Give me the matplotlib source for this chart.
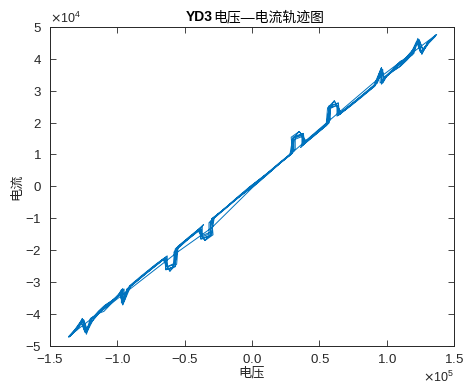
import matplotlib

matplotlib.use("Agg")

import matplotlib.pyplot as plt
import numpy as np

plt.rcParams["font.family"] = ["Liberation Sans", "Noto Sans CJK SC", "DejaVu Sans"]
plt.rcParams["axes.unicode_minus"] = False

# (voltage / 1e5, current / 1e4) samples, one list per sweep
sweep_up_1 = [
    (-1.36, -4.72), (-1.30, -4.50), (-1.26, -4.14), (-1.23, -4.60), (-1.19, -4.15),
    (-1.15, -3.96), (-1.10, -3.76), (-1.05, -3.62), (-1.00, -3.46), (-0.97, -3.24),
    (-0.97, -3.66), (-0.91, -3.14), (-0.80, -2.76), (-0.70, -2.42), (-0.65, -2.25),
    (-0.64, -2.60), (-0.57, -2.52), (-0.57, -2.00), (-0.48, -1.66), (-0.39, -1.36),
    (-0.38, -1.66), (-0.31, -1.56), (-0.31, -1.10), (-0.22, -0.78), (-0.12, -0.42),
    (0.00, -0.02), (0.10, 0.36), (0.20, 0.70), (0.29, 1.00), (0.30, 1.52),
    (0.38, 1.64), (0.38, 1.30), (0.46, 1.60), (0.56, 1.94), (0.57, 2.50),
    (0.64, 2.62), (0.64, 2.22), (0.72, 2.50), (0.82, 2.84), (0.90, 3.12),
    (0.96, 3.72), (0.96, 3.20), (1.00, 3.47), (1.05, 3.70), (1.10, 3.92),
    (1.15, 4.00), (1.19, 4.12), (1.23, 4.64), (1.26, 4.15), (1.30, 4.48),
    (1.37, 4.76),
]
sweep_down_1 = [
    (1.37, 4.76), (1.30, 4.50), (1.26, 4.14), (1.23, 4.60), (1.19, 4.15),
    (1.15, 3.96), (1.10, 3.76), (1.05, 3.62), (1.00, 3.46), (0.97, 3.24),
    (0.97, 3.66), (0.91, 3.14), (0.80, 2.78), (0.70, 2.44), (0.65, 2.25),
    (0.64, 2.60), (0.57, 2.52), (0.57, 2.00), (0.48, 1.68), (0.39, 1.36),
    (0.38, 1.66), (0.31, 1.56), (0.31, 1.10), (0.22, 0.80), (0.12, 0.44),
    (0.00, 0.04), (-0.10, -0.34), (-0.20, -0.68), (-0.29, -1.00), (-0.30, -1.52),
    (-0.38, -1.64), (-0.38, -1.30), (-0.46, -1.60), (-0.56, -1.94), (-0.57, -2.50),
    (-0.64, -2.62), (-0.64, -2.22), (-0.72, -2.50), (-0.82, -2.84), (-0.90, -3.12),
    (-0.96, -3.72), (-0.96, -3.20), (-1.00, -3.47), (-1.05, -3.70), (-1.10, -3.92),
    (-1.15, -4.00), (-1.19, -4.12), (-1.23, -4.64), (-1.26, -4.15), (-1.30, -4.48),
    (-1.36, -4.72),
]
sweep_up_2 = [
    (-1.35, -4.68), (-1.29, -4.44), (-1.25, -4.20), (-1.22, -4.52), (-1.18, -4.18),
    (-1.14, -3.92), (-1.09, -3.72), (-1.04, -3.58), (-0.99, -3.42), (-0.96, -3.28),
    (-0.96, -3.58), (-0.92, -3.20), (-0.80, -2.78), (-0.70, -2.44), (-0.64, -2.24),
    (-0.63, -2.52), (-0.58, -2.46), (-0.58, -2.06), (-0.48, -1.68), (-0.38, -1.34),
    (-0.37, -1.58), (-0.32, -1.50), (-0.32, -1.14), (-0.22, -0.76), (-0.12, -0.40),
    (0.02, 0.04), (0.12, 0.40), (0.21, 0.74), (0.30, 1.04), (0.31, 1.46),
    (0.37, 1.56), (0.37, 1.28), (0.46, 1.58), (0.57, 1.98), (0.58, 2.44),
    (0.63, 2.54), (0.63, 2.20), (0.72, 2.48), (0.82, 2.82), (0.91, 3.14),
    (0.95, 3.62), (0.95, 3.24), (1.00, 3.44), (1.05, 3.66), (1.10, 3.86),
    (1.15, 4.04), (1.20, 4.16), (1.23, 4.56), (1.25, 4.20), (1.31, 4.52),
    (1.36, 4.74),
]
sweep_down_2 = [
    (1.36, 4.74), (1.31, 4.52), (1.25, 4.20), (1.22, 4.54), (1.18, 4.18),
    (1.14, 3.94), (1.09, 3.74), (1.04, 3.60), (0.99, 3.44), (0.96, 3.28),
    (0.96, 3.60), (0.92, 3.22), (0.80, 2.80), (0.70, 2.46), (0.64, 2.26),
    (0.63, 2.54), (0.58, 2.48), (0.58, 2.08), (0.48, 1.70), (0.38, 1.36),
    (0.37, 1.60), (0.32, 1.52), (0.32, 1.16), (0.22, 0.78), (0.12, 0.42),
    (-0.02, -0.02), (-0.12, -0.38), (-0.21, -0.72), (-0.30, -1.02), (-0.31, -1.44),
    (-0.37, -1.54), (-0.37, -1.26), (-0.46, -1.56), (-0.57, -1.96), (-0.58, -2.42),
    (-0.63, -2.52), (-0.63, -2.18), (-0.72, -2.46), (-0.82, -2.80), (-0.91, -3.12),
    (-0.95, -3.60), (-0.95, -3.22), (-1.00, -3.42), (-1.05, -3.64), (-1.10, -3.84),
    (-1.15, -4.02), (-1.20, -4.14), (-1.23, -4.54), (-1.25, -4.18), (-1.31, -4.50),
    (-1.35, -4.70),
]
sweep_up_3 = [
    (-1.36, -4.70), (-1.31, -4.48), (-1.27, -4.24), (-1.24, -4.58), (-1.20, -4.30),
    (-1.12, -3.90), (-1.04, -3.62), (-0.98, -3.40), (-0.96, -3.70), (-0.93, -3.24),
    (-0.84, -2.92), (-0.74, -2.56), (-0.66, -2.30), (-0.61, -2.66), (-0.56, -2.44),
    (-0.55, -1.92), (-0.46, -1.60), (-0.40, -1.40), (-0.35, -1.70), (-0.29, -1.52),
    (-0.30, -1.02), (-0.20, -0.70), (-0.10, -0.34), (0.00, 0.00), (0.10, 0.34),
    (0.20, 0.70), (0.28, 0.98), (0.30, 1.48), (0.35, 1.72), (0.40, 1.40),
    (0.36, 1.22), (0.44, 1.52), (0.55, 1.90), (0.57, 2.40), (0.61, 2.68),
    (0.66, 2.30), (0.74, 2.56), (0.84, 2.92), (0.93, 3.24), (0.96, 3.70),
    (0.98, 3.40), (1.04, 3.62), (1.12, 3.90), (1.20, 4.30), (1.24, 4.58),
    (1.27, 4.24), (1.31, 4.48), (1.36, 4.70),
]
sweep_down_3 = [
    (1.36, 4.72), (1.31, 4.50), (1.27, 4.26), (1.24, 4.60), (1.20, 4.32),
    (1.12, 3.92), (1.04, 3.64), (0.98, 3.42), (0.96, 3.72), (0.93, 3.26),
    (0.84, 2.94), (0.74, 2.58), (0.66, 2.32), (0.61, 2.68), (0.56, 2.46),
    (0.55, 1.94), (0.46, 1.62), (0.40, 1.42), (0.35, 1.72), (0.29, 1.54),
    (0.30, 1.04), (0.20, 0.72), (0.10, 0.36), (0.00, 0.02), (-0.10, -0.32),
    (-0.20, -0.68), (-0.28, -0.96), (-0.30, -1.46), (-0.35, -1.70), (-0.40, -1.38),
    (-0.36, -1.20), (-0.44, -1.50), (-0.55, -1.88), (-0.57, -2.38), (-0.61, -2.66),
    (-0.66, -2.28), (-0.74, -2.54), (-0.84, -2.90), (-0.93, -3.22), (-0.96, -3.68),
    (-0.98, -3.38), (-1.04, -3.60), (-1.12, -3.88), (-1.20, -4.28), (-1.24, -4.56),
    (-1.27, -4.22), (-1.31, -4.46), (-1.36, -4.72),
]
# thin transient stroke that cuts straight across the loops
sweep_transient = [
    (-1.33, -4.60), (-0.90, -3.20), (-0.55, -2.05), (-0.30, -1.30),
    (0.00, -0.05), (0.45, 1.62), (0.95, 3.42), (1.35, 4.70),
]

VOLT_SCALE = 1e5
CURR_SCALE = 1e4
LINE_COLOR = "#0072BD"
AXIS_COLOR = "#262626"


def main() -> None:
    sweeps = [sweep_up_1, sweep_down_1, sweep_up_2, sweep_down_2,
              sweep_up_3, sweep_down_3, sweep_transient]
    trace = np.concatenate([np.asarray(s) for s in sweeps])
    volts = trace[:, 0] * VOLT_SCALE
    currs = trace[:, 1] * CURR_SCALE

    fig = plt.figure(figsize=(4.63, 3.89), dpi=100)
    ax = fig.add_axes([0.108, 0.111, 0.873, 0.820])
    ax.plot(volts, currs, color=LINE_COLOR, linewidth=0.7)

    ax.set_xlim(-1.5e5, 1.5e5)
    ax.set_ylim(-5e4, 5e4)
    ax.set_xticks(np.arange(-1.5, 1.51, 0.5) * VOLT_SCALE)
    ax.set_yticks(np.arange(-5, 5.1, 1) * CURR_SCALE)
    ax.ticklabel_format(style="sci", scilimits=(0, 0), useMathText=True)

    ax.tick_params(direction="in", top=True, right=True, length=4, width=0.6,
                   colors=AXIS_COLOR, labelsize=9.5)
    ax.tick_params(axis="x", pad=5)
    ax.tick_params(axis="y", pad=6)
    for spine in ax.spines.values():
        spine.set_color(AXIS_COLOR)
        spine.set_linewidth(0.7)
    for off in (ax.xaxis.get_offset_text(), ax.yaxis.get_offset_text()):
        off.set_fontsize(9)
        off.set_color(AXIS_COLOR)

    ax.set_xlabel("电压", fontsize=9.5, color=AXIS_COLOR, labelpad=1)
    ax.set_ylabel("电流", fontsize=9.5, color=AXIS_COLOR, labelpad=1)

    # title: bold latin part followed by regular Chinese part
    cn = fig.text(213 / 463, 1 - 21 / 389, "电压—电流轨迹图", fontsize=10,
                  ha="left", va="baseline", color="#000000")
    ax.annotate("YD3", xy=(0, 0), xycoords=cn, xytext=(0, 0), textcoords="offset points",
                ha="right", va="bottom", fontsize=10, fontweight="bold", color="#000000",
                annotation_clip=False)

    fig.savefig("out.png", dpi=100)
    plt.close(fig)


if __name__ == "__main__":
    main()
